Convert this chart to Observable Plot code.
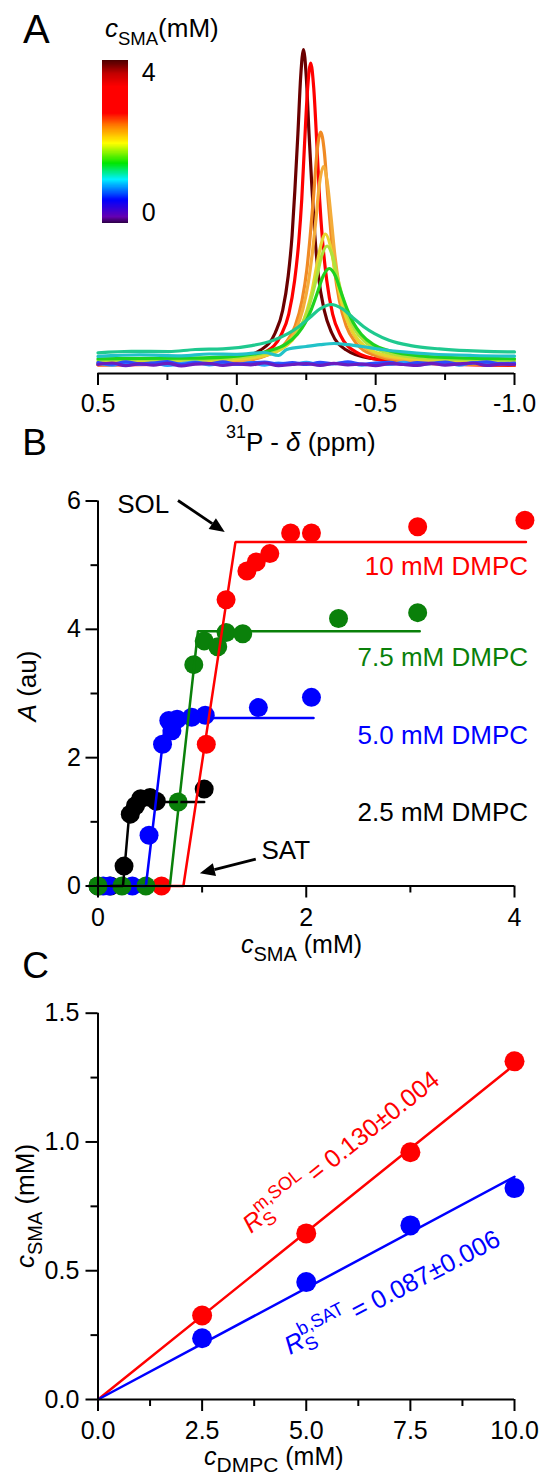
<!DOCTYPE html>
<html><head><meta charset="utf-8">
<script src="https://cdn.jsdelivr.net/npm/d3@7"></script>
<script src="https://cdn.jsdelivr.net/npm/@observablehq/plot@0.6"></script>
<style>
body{margin:0;background:#fff;}
#wrap{position:relative;width:542px;height:1481px;overflow:hidden;background:#fff;}
</style></head>
<body><div id="wrap"></div>
<script>
const FONT = "'Liberation Sans', Arial, Helvetica, sans-serif";

// ---------------- Panel A : 31P spectra ----------------
const ppmTicks = [0.5, 0, -0.5, -1.0];
const ppmTickLabels = ["0.5", "0.0", "-0.5", "-1.0"];
const ppmMinorTicks = [0.25, -0.25, -0.75];

const specColors = ["#6b0000", "#ff0000", "#f08a24", "#f4ac3a", "#e6d62e", "#aee23c",
                    "#1fd21f", "#1fc98f", "#22c2c8", "#2aa0ff", "#2a4cff", "#6a1cc0"];
const baseGrid = [0.5, 0.45, 0.4, 0.35, 0.3, 0.25, 0.2, 0.15, 0.1, 0.05, 0, -0.05, -0.1, -0.15, -0.2, -0.25,
                  -0.3, -0.35, -0.4, -0.45, -0.5, -0.55, -0.6, -0.65, -0.7, -0.75, -0.8, -0.85, -0.9, -0.95, -1.0];
const specPPM = [
  [0.5, 0.2, -0.002, -0.087, -0.138, -0.165, -0.185, -0.199, -0.209, -0.220, -0.230, -0.240, -0.250, -0.260, -0.271, -0.281, -0.294, -0.315, -0.342, -0.393, -0.478, -0.7, -1.0],
  [0.5, 0.2, -0.014, -0.104, -0.158, -0.187, -0.208, -0.223, -0.234, -0.244, -0.255, -0.266, -0.277, -0.288, -0.298, -0.309, -0.324, -0.345, -0.374, -0.428, -0.518, -0.7, -1.0],
  [0.5, 0.2, -0.008, -0.113, -0.176, -0.210, -0.235, -0.252, -0.264, -0.277, -0.289, -0.302, -0.315, -0.327, -0.340, -0.352, -0.369, -0.394, -0.428, -0.491, -0.596, -0.8, -1.0],
  [0.5, 0.2, -0.010, -0.105, -0.174, -0.211, -0.238, -0.257, -0.271, -0.285, -0.298, -0.312, -0.326, -0.340, -0.353, -0.367, -0.386, -0.413, -0.450, -0.519, -0.634, -0.8, -1.0],
  [0.5, 0.25, 0.066, -0.072, -0.154, -0.198, -0.231, -0.253, -0.270, -0.286, -0.303, -0.319, -0.336, -0.352, -0.369, -0.385, -0.407, -0.440, -0.484, -0.567, -0.704, -0.85, -1.0],
  [0.5, 0.3, 0.109, -0.046, -0.139, -0.189, -0.226, -0.251, -0.269, -0.288, -0.306, -0.325, -0.344, -0.362, -0.381, -0.399, -0.424, -0.461, -0.511, -0.604, -0.759, -0.9, -1.0],
  [0.5, 0.35, 0.171, -0.009, -0.117, -0.175, -0.218, -0.247, -0.268, -0.290, -0.311, -0.333, -0.355, -0.376, -0.398, -0.419, -0.448, -0.491, -0.549, -0.657, -0.837, -1.0],
  [0.5, 0.38, 0.245, 0.15, 0.05, -0.054, -0.132, -0.184, -0.223, -0.262, -0.301, -0.34, -0.379, -0.418, -0.457, -0.496, -0.548, -0.626, -0.73, -0.83, -0.925, -1.0],
  [0.5, 0.35, 0.2, 0.1, 0.0, -0.1, -0.15, -0.18, -0.25, -0.3, -0.35, -0.4, -0.45, -0.52, -0.6, -0.7, -0.85, -1.0],
  baseGrid, baseGrid, baseGrid
];
const specIntensity = [
  [3.2, 3.6, 5.1, 7.9, 13.5, 21, 32.5, 46, 61, 80, 99, 108, 99, 80, 61, 46, 32.5, 21, 13.5, 7.9, 5.1, 3.6, 3.2],
  [2.9, 3.2, 4.5, 7.2, 12.6, 19.8, 30.9, 43.9, 58.3, 76.7, 95.1, 103.5, 95.1, 76.7, 58.3, 43.9, 30.9, 19.8, 12.6, 7.2, 4.5, 3.3, 2.7],
  [2.9, 3.4, 4.1, 6.2, 10.3, 15.8, 24.4, 34.5, 45.6, 59.8, 74, 80.5, 74, 59.8, 45.6, 34.5, 24.4, 15.8, 10.3, 6.2, 4.1, 3.1, 2.9],
  [3.3, 3.6, 4.3, 6.1, 9.6, 14.3, 21.5, 30.1, 39.4, 51.5, 63.5, 69, 63.5, 51.5, 39.4, 30.1, 21.5, 14.3, 9.6, 6.1, 4.3, 3.6, 3.3],
  [3.8, 4.0, 4.4, 5.5, 7.8, 10.9, 15.6, 21.1, 27.2, 35.1, 42.9, 46.5, 42.9, 35.1, 27.2, 21.1, 15.6, 10.9, 7.8, 5.5, 4.4, 4.0, 3.8],
  [4.5, 4.6, 4.8, 5.8, 7.9, 10.6, 14.8, 19.8, 25.3, 32.3, 39.3, 42.5, 39.3, 32.3, 25.3, 19.8, 14.8, 10.6, 7.9, 5.8, 4.8, 4.5, 4.4],
  [4.9, 5.0, 5.1, 5.9, 7.6, 9.7, 13.1, 17, 21.3, 26.9, 32.5, 35, 32.5, 26.9, 21.3, 17, 13.1, 9.7, 7.6, 5.9, 5.1, 4.9],
  [6.9, 7.4, 7.3, 8.0, 8.2, 9.3, 11.1, 13.3, 15.6, 18.6, 21.6, 23, 21.6, 18.6, 15.6, 13.3, 11.1, 9.3, 8.2, 7.6, 7.3, 7.2],
  [5.7, 6.2, 5.9, 6.5, 6.4, 7.0, 6.0, 8.0, 9.0, 9.6, 10, 9.6, 9.0, 8.0, 7.2, 6.5, 6.0, 5.8],
  [3.4, 2.8, 3.6, 3.0, 3.5, 2.7, 3.3, 3.8, 2.9, 3.4, 3.0, 3.6, 2.8, 3.5, 3.1, 3.7, 2.9, 3.3, 3.6, 2.8, 3.4, 3.0, 3.7, 2.9, 3.3, 3.5, 2.8, 3.6, 3.0, 3.4, 3.2],
  [3.6, 3.1, 3.9, 3.2, 3.5, 4.0, 3.0, 3.6, 3.3, 3.9, 3.1, 3.5, 3.8, 3.2, 3.6, 3.0, 3.7, 3.3, 3.9, 3.1, 3.5, 3.7, 3.0, 3.6, 3.4, 3.8, 3.1, 3.5, 3.9, 3.2, 3.5],
  [3.0, 3.5, 2.6, 3.2, 2.8, 3.4, 2.5, 3.1, 3.3, 2.7, 3.2, 2.9, 3.5, 2.6, 3.0, 3.3, 2.7, 3.4, 2.9, 3.1, 2.6, 3.3, 3.0, 2.7, 3.4, 2.8, 3.2, 3.5, 2.7, 3.1, 3.0]
];

// colour bar (c_SMA, mM)
const cbarTicks = [0, 4];
const cbarStops = [-0.29, -0.12, 0.36, 0.95, 1.41, 1.98, 2.47, 2.84, 3.6, 3.98, 4.36];
const cbarColors = ["#2e0048", "#6600b0", "#0000ff", "#00f0ff", "#00e600", "#ffff00",
                    "#ff8000", "#ff0000", "#ff0000", "#c00000", "#4a0000"];

// ---------------- Panel B : A vs c_SMA ----------------
const bSeriesNames = ["10 mM DMPC", "7.5 mM DMPC", "5.0 mM DMPC", "2.5 mM DMPC"];
const bSeriesColors = ["#ff0000", "#0a800a", "#0000ff", "#000000"];
const b10X = [0.61, 1.04, 1.23, 1.43, 1.52, 1.65, 1.85, 2.05, 3.07, 4.10];
const b10Y = [0, 2.21, 4.46, 4.91, 5.05, 5.18, 5.50, 5.50, 5.60, 5.70];
const b75X = [0, 0.23, 0.46, 0.77, 0.92, 1.02, 1.15, 1.23, 1.39, 2.31, 3.07];
const b75Y = [0, 0, 0, 1.31, 3.45, 3.82, 3.73, 3.95, 3.93, 4.17, 4.26];
const b50X = [0.05, 0.11, 0.33, 0.49, 0.62, 0.68, 0.71, 0.76, 0.90, 1.03, 1.54, 2.05];
const b50Y = [0, 0, 0, 0.79, 2.21, 2.58, 2.42, 2.60, 2.63, 2.66, 2.78, 2.94];
const b25X = [0, 0.12, 0.25, 0.31, 0.36, 0.41, 0.50, 0.56, 1.02];
const b25Y = [0, 0, 0.31, 1.12, 1.25, 1.36, 1.38, 1.32, 1.51];
const fit10X = [0.61, 0.82, 1.32, 4.11], fit10Y = [0, 0, 5.36, 5.36];
const fit75X = [0.46, 0.69, 0.96, 3.09], fit75Y = [0, 0, 3.97, 3.97];
const fit50X = [0.33, 0.46, 0.65, 2.07], fit50Y = [0, 0, 2.62, 2.62];
const fit25X = [0.12, 0.24, 0.31, 1.02], fit25Y = [0, 0, 1.31, 1.31];
const bLabelX = [4.13, 4.13, 4.13, 4.13];
const bLabelY = [4.97, 3.56, 2.34, 1.15];
const bTicks = [0, 2, 4, 6], bMinor = [1, 3, 5];
const bXTicks = [0, 2, 4], bXMinor = [1, 3];
const noteText = ["SOL", "SAT"];
const noteX = [0.185, 1.57], noteY = [5.95, 0.55];
const arrowX1 = [0.773, 1.52], arrowY1 = [6.0, 0.41];
const arrowX2 = [1.222, 0.983], arrowY2 = [5.51, 0.19];

// ---------------- Panel C : c_SMA vs c_DMPC ----------------
const cDMPC = [2.5, 5.0, 7.5, 10.0];
const cSOL = [0.326, 0.645, 0.960, 1.313];
const cSAT = [0.238, 0.456, 0.676, 0.821];
const cFitX = [0, 10];
const cFitSOL = [0, 1.30];
const cFitSAT = [0, 0.865];
const cXTicks = [0, 2.5, 5, 7.5, 10], cXLabels = ["0.0", "2.5", "5.0", "7.5", "10.0"];
const cXMinor = [1.25, 3.75, 6.25, 8.75];
const cYTicks = [0, 0.5, 1.0, 1.5], cYLabels = ["0.0", "0.5", "1.0", "1.5"];
const cYMinor = [0.25, 0.75, 1.25];

// ---------------- helpers ----------------
const wrap = document.getElementById("wrap");
const style = {background: "transparent", overflow: "visible", fontFamily: FONT, fontSize: "25px", color: "black"};
function place(svg, left, top) {
  svg.style.position = "absolute";
  svg.style.left = left + "px";
  svg.style.top = top + "px";
  svg.style.maxWidth = "none";
  wrap.appendChild(svg);
}
const zip = (xs, ys) => xs.map((x, i) => ({x, y: ys[i]}));
const fmtFrom = (ticks, labels) => { const m = new Map(ticks.map((t, i) => [t, labels[i]])); return d => m.get(d) ?? ""; };
function rich(svg, x, y, parts, o = {}) {
  const t = d3.select(svg).append("text").attr("x", x).attr("y", y)
    .attr("font-family", FONT).attr("font-size", o.size || 26).attr("fill", o.fill || "black")
    .attr("text-anchor", o.anchor || "start");
  if (o.rotate) t.attr("transform", `rotate(${o.rotate},${x},${y})`);
  for (const p of parts) {
    const s = t.append("tspan").text(p.t);
    if (p.size) s.attr("font-size", p.size);
    if (p.dy) s.attr("dy", p.dy);
    if (p.dx) s.attr("dx", p.dx);
    if (p.it) s.attr("font-style", "italic");
  }
  return t;
}

// ---------------- Panel A ----------------
const plotA = Plot.plot({
  width: 542, height: 460,
  marginLeft: 97.5, marginRight: 28, marginTop: 43, marginBottom: 87,
  x: {domain: [0.5, -1.0]},
  y: {domain: [0, 110], axis: null},
  style,
  marks: [
    ...specPPM.map((xs, i) => Plot.line(zip(xs, specIntensity[i]),
      {x: "x", y: "y", stroke: specColors[i], strokeWidth: 3.2, curve: "monotone-x"})),
    Plot.ruleY([0], {strokeWidth: 2}),
    Plot.axisX({ticks: ppmTicks, tickSize: 12, tickPadding: 8.5, tickFormat: fmtFrom(ppmTicks, ppmTickLabels), fontSize: 25, strokeWidth: 2, label: null}),
    Plot.axisX({ticks: ppmMinorTicks, tickSize: 7, tickFormat: () => "", strokeWidth: 2, label: null})
  ]
});
place(plotA, 0, 0);
rich(plotA, 23, 42.7, [{t: "A"}], {size: 40});
rich(plotA, 105, 37, [{t: "c", it: true}, {t: "SMA", size: 18.5, dy: 8}, {t: "(mM)", dy: -8}], {size: 26});
rich(plotA, 226, 451, [{t: "31", size: 18, dy: -13}, {t: "P - ", dy: 13}, {t: "δ", it: true}, {t: " (ppm)"}], {size: 26});

// colour bar
const ramp = d3.range(-0.29, 4.36, 0.01);
const cbar = Plot.plot({
  width: 80, height: 163, marginLeft: 0, marginRight: 53.7, marginTop: 0, marginBottom: 0,
  x: {domain: [0, 1], axis: null},
  y: {domain: [-0.29, 4.36]},
  color: {type: "linear", domain: cbarStops, range: cbarColors},
  style,
  marks: [
    Plot.rect(ramp, {x1: 0, x2: 1, y1: d => d, y2: d => d + 0.012, fill: d => d, shapeRendering: "crispEdges"}),
    Plot.axisY({anchor: "right", ticks: cbarTicks, tickSize: 0, tickPadding: 13, tickFormat: d => String(d), fontSize: 25, label: null})
  ]
});
place(cbar, 102.3, 60);

// ---------------- Panel B ----------------
const bDots = [[b25X, b25Y, 3], [b50X, b50Y, 2], [b10X, b10Y, 0], [b75X, b75Y, 1]];
const bFits = [[fit25X, fit25Y, 3], [fit50X, fit50Y, 2], [fit75X, fit75Y, 1], [fit10X, fit10Y, 0]];
const plotB = Plot.plot({
  width: 542, height: 520,
  marginLeft: 97.5, marginRight: 28, marginTop: 60.5, marginBottom: 74.5,
  x: {domain: [0, 4]}, y: {domain: [0, 6]},
  style,
  marks: [
    ...bDots.map(([xs, ys, k]) => Plot.dot(zip(xs, ys), {x: "x", y: "y", r: 9.5, fill: bSeriesColors[k], stroke: null})),
    ...bFits.map(([xs, ys, k]) => Plot.line(zip(xs, ys), {x: "x", y: "y", stroke: bSeriesColors[k], strokeWidth: 2.5, strokeLinejoin: "miter"})),
    Plot.ruleX([0], {y1: 0, y2: 6, strokeWidth: 2}),
    Plot.ruleY([0], {x1: 0, x2: 4, strokeWidth: 2}),
    Plot.axisY({ticks: bTicks, tickSize: 12, tickPadding: 5, tickFormat: d => String(d), fontSize: 25, strokeWidth: 2, label: null}),
    Plot.axisY({ticks: bMinor, tickSize: 7, tickFormat: () => "", strokeWidth: 2, label: null}),
    Plot.axisX({ticks: bXTicks, tickSize: 12, tickPadding: 10.5, tickFormat: d => String(d), fontSize: 25, strokeWidth: 2, label: null}),
    Plot.axisX({ticks: bXMinor, tickSize: 7, tickFormat: () => "", strokeWidth: 2, label: null}),
    Plot.text(bSeriesNames, {x: (d, i) => bLabelX[i], y: (d, i) => bLabelY[i], text: d => d, fill: (d, i) => bSeriesColors[i], textAnchor: "end", fontSize: 26, letterSpacing: "0.5px"}),
    Plot.text(noteText, {x: (d, i) => noteX[i], y: (d, i) => noteY[i], text: d => d, fill: "black", textAnchor: "start", fontSize: 26})
  ]
});
place(plotB, 0, 440);
{
  const sx = plotB.scale("x"), sy = plotB.scale("y");
  const g = d3.select(plotB).append("g");
  arrowX1.forEach((_, i) => {
    const X1 = sx.apply(arrowX1[i]), Y1 = sy.apply(arrowY1[i]);
    const X2 = sx.apply(arrowX2[i]), Y2 = sy.apply(arrowY2[i]);
    const a = Math.atan2(Y2 - Y1, X2 - X1), hl = 15, hw = 6.5;
    const bx = X2 - hl * Math.cos(a), by = Y2 - hl * Math.sin(a);
    g.append("line").attr("x1", X1).attr("y1", Y1).attr("x2", bx).attr("y2", by)
      .attr("stroke", "black").attr("stroke-width", 2.8);
    g.append("path").attr("d", `M${X2},${Y2}L${bx - hw * Math.sin(a)},${by + hw * Math.cos(a)}L${bx + hw * Math.sin(a)},${by - hw * Math.cos(a)}Z`)
      .attr("fill", "black");
  });
}
rich(plotB, 22.3, 15, [{t: "B"}], {size: 37});
rich(plotB, 241, 513, [{t: "c", it: true}, {t: "SMA", size: 20, dy: 8}, {t: " (mM)", dy: -8}], {size: 25});
rich(plotB, 36, 246, [{t: "A", it: true}, {t: " (au)"}], {size: 26, anchor: "middle", rotate: -90});

// ---------------- Panel C ----------------
const plotC = Plot.plot({
  width: 542, height: 521,
  marginLeft: 97.5, marginRight: 28, marginTop: 52.7, marginBottom: 82,
  x: {domain: [0, 10]}, y: {domain: [0, 1.5]},
  style,
  marks: [
    Plot.line(zip(cFitX, cFitSOL), {x: "x", y: "y", stroke: "#ff0000", strokeWidth: 2.5}),
    Plot.line(zip(cFitX, cFitSAT), {x: "x", y: "y", stroke: "#0000ff", strokeWidth: 2.5}),
    Plot.dot(zip(cDMPC, cSOL), {x: "x", y: "y", r: 10, fill: "#ff0000", stroke: null}),
    Plot.dot(zip(cDMPC, cSAT), {x: "x", y: "y", r: 10, fill: "#0000ff", stroke: null}),
    Plot.ruleX([0], {y1: 0, y2: 1.5, strokeWidth: 2}),
    Plot.ruleY([0], {x1: 0, x2: 10, strokeWidth: 2}),
    Plot.axisY({ticks: cYTicks, tickSize: 12, tickPadding: 6.7, tickFormat: fmtFrom(cYTicks, cYLabels), fontSize: 25, strokeWidth: 2, label: null}),
    Plot.axisY({ticks: cYMinor, tickSize: 7, tickFormat: () => "", strokeWidth: 2, label: null}),
    Plot.axisX({ticks: cXTicks, tickSize: 12, tickPadding: 9.5, tickFormat: fmtFrom(cXTicks, cXLabels), fontSize: 25, strokeWidth: 2, label: null}),
    Plot.axisX({ticks: cXMinor, tickSize: 7, tickFormat: () => "", strokeWidth: 2, label: null})
  ]
});
place(plotC, 0, 960);
rich(plotC, 22.3, 18, [{t: "C"}], {size: 37});
rich(plotC, 204, 505, [{t: "c", it: true}, {t: "DMPC", size: 21, dy: 7}, {t: " (mM)", dy: -7}], {size: 25});
rich(plotC, 34, 246, [{t: "c", it: true}, {t: "SMA", size: 20, dy: 8}, {t: " (mM)", dy: -8}], {size: 26, anchor: "middle", rotate: -90});
rich(plotC, 251, 274, [{t: "R", it: true}, {t: "S", size: 18.5, dy: 6}, {t: "m,SOL", size: 18.5, dx: -12.3, dy: -18}, {t: " = 0.130±0.004", dy: 12}], {size: 25, fill: "#ff0000", rotate: -38.5});
rich(plotC, 290, 395, [{t: "R", it: true}, {t: "S", size: 18.5, dy: 6}, {t: "b,SAT", size: 18.5, dx: -12.3, dy: -18}, {t: " = 0.087±0.006", dy: 12}], {size: 25.5, fill: "#0000ff", rotate: -27.5});
</script>
</body></html>
